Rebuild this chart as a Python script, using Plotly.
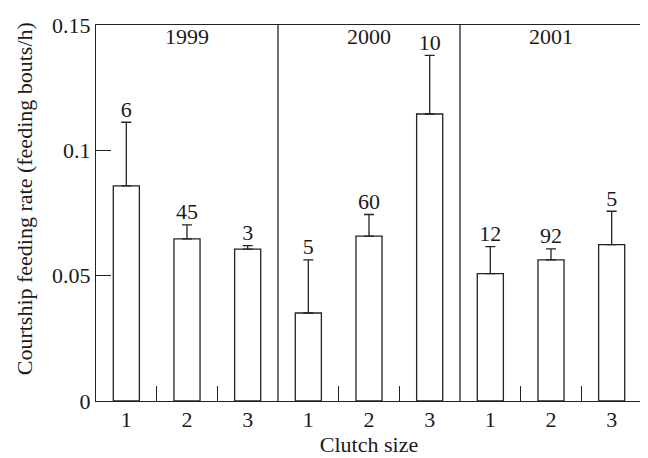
import plotly.graph_objects as go

years = ["1999", "2000", "2001"]
clutch = ["1", "2", "3"]
means = [0.0858, 0.0647, 0.0606,
         0.0351, 0.0658, 0.1145,
         0.0508, 0.0563, 0.0624]
upper = [0.1112, 0.0703, 0.0620,
         0.0563, 0.0744, 0.1379,
         0.0616, 0.0607, 0.0757]
ns = ["6", "45", "3", "5", "60", "10", "12", "92", "5"]
yticks = [0, 0.05, 0.1, 0.15]
ytext = ["0", "0.05", "0.1", "0.15"]

FONT = "Liberation Serif"
FS = 22
LC = "#222222"
TC = "#1a1a1a"

nc = len(clutch)
xpos = list(range(len(means)))
ticktext = clutch * len(years)
plus = [u - m for u, m in zip(upper, means)]

fig = go.Figure()
fig.add_trace(go.Bar(
    x=xpos, y=means, width=0.43,
    marker=dict(color="white", line=dict(color=LC, width=1.3)),
    error_y=dict(type="data", symmetric=False, array=plus,
                 arrayminus=[0] * len(means), color=LC, thickness=1.3, width=5),
    showlegend=False, hoverinfo="skip"))
fig.add_trace(go.Scatter(
    x=xpos, y=upper, mode="text", text=ns, textposition="top center",
    textfont=dict(family=FONT, size=FS, color=TC),
    showlegend=False, hoverinfo="skip"))
# invisible trace for the boundary tick axis
fig.add_trace(go.Scatter(x=[-0.5, len(means) - 0.5], y=[0, 0], xaxis="x2",
                         mode="markers", marker=dict(opacity=0),
                         showlegend=False, hoverinfo="skip"))

# panel dividers
for k in range(1, len(years)):
    fig.add_shape(type="line", xref="x", yref="paper",
                  x0=k * nc - 0.5, x1=k * nc - 0.5, y0=0, y1=1,
                  line=dict(color=LC, width=1.3))
for k, yr in enumerate(years):
    fig.add_annotation(x=k * nc + (nc - 1) / 2, y=0.1437, xref="x", yref="y",
                       text=yr, showarrow=False, yanchor="middle", yshift=4,
                       font=dict(family=FONT, size=FS, color=TC))

# y-axis title
fig.add_annotation(xref="paper", yref="paper", x=0, y=0.5365, xshift=-72,
                   xanchor="center", yanchor="middle", textangle=-90,
                   text="Courtship feeding rate (feeding bouts/h)",
                   showarrow=False, font=dict(family=FONT, size=FS, color=TC))

boundaries = [i + 0.5 for i in range(len(means) - 1) if (i + 1) % nc != 0]

fig.update_layout(
    width=640, height=450,
    margin=dict(l=88, r=5, t=13, b=57),
    paper_bgcolor="white", plot_bgcolor="white",
    font=dict(family=FONT, size=FS, color=TC),
    xaxis=dict(range=[-0.5, len(means) - 0.5], tickmode="array",
               tickvals=xpos, ticktext=ticktext, ticks="", showgrid=False,
               zeroline=False, showline=True, linecolor=LC, linewidth=1.3,
               mirror=True, ticklabelstandoff=-2,
               title=dict(text="Clutch size", standoff=4,
                          font=dict(family=FONT, size=FS))),
    xaxis2=dict(range=[-0.5, len(means) - 0.5], overlaying="x", side="bottom",
                tickmode="array", tickvals=boundaries, showticklabels=False,
                ticks="inside", ticklen=15, tickcolor=LC, tickwidth=1.3,
                showgrid=False, zeroline=False, showline=False, anchor="y"),
    yaxis=dict(range=[0, 0.15], tickmode="array", tickvals=yticks,
               ticktext=ytext, ticks="inside", ticklen=15, tickcolor=LC,
               tickwidth=1.3, showgrid=False, zeroline=False, showline=True,
               linecolor=LC, linewidth=1.3, mirror=True),
)
fig.write_html("out.html")
